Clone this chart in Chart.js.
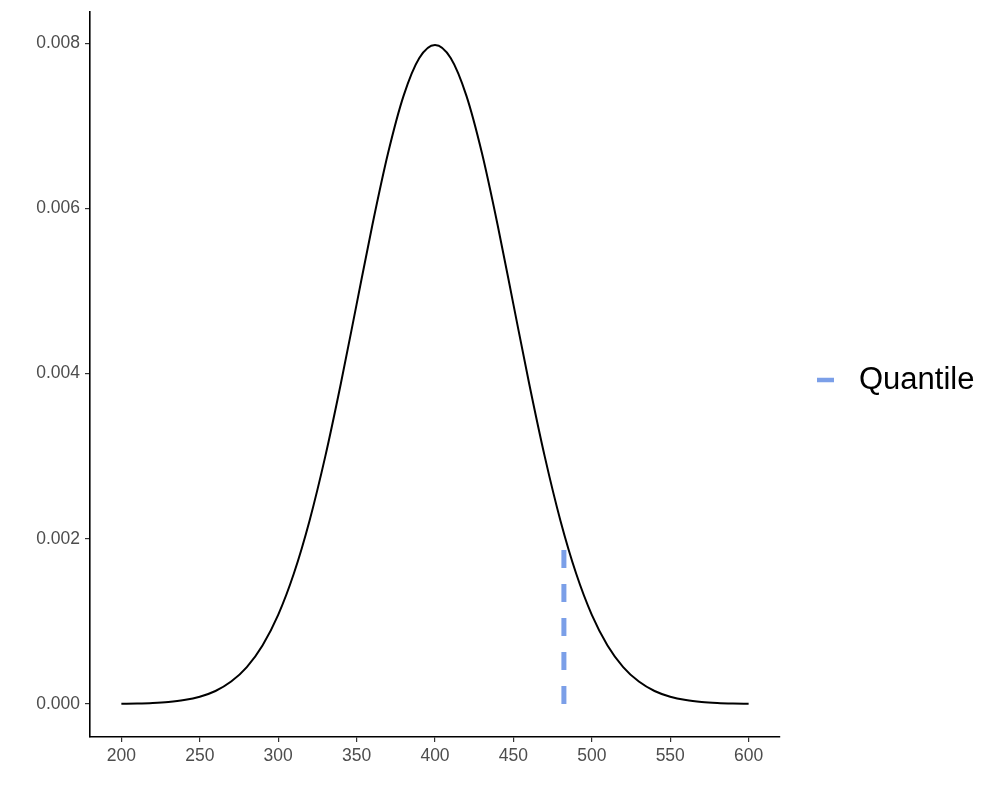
<!DOCTYPE html>
<html>
<head>
<meta charset="utf-8">
<script src="https://cdn.jsdelivr.net/npm/chart.js@4"></script>
<style>
  html, body { margin: 0; padding: 0; background: #fff; }
  #wrap { width: 1000px; height: 800px; }
</style>
</head>
<body>
<div id="wrap"><canvas id="densidad" width="1000" height="800"></canvas></div>
<script>
// valores (curva de densidad)
const xValores = [200, 210, 220, 230, 240, 250, 260, 270, 280, 290,
                  300, 310, 320, 330, 340, 350, 360, 370, 380, 390,
                  400, 410, 420, 430, 440, 450, 460, 470, 480, 490,
                  500, 510, 520, 530, 540, 550, 560, 570, 580, 590, 600];
const densidad = [0.0000027, 0.0000058, 0.0000122, 0.0000246, 0.0000477, 0.0000886, 0.000158, 0.000272, 0.000448, 0.00071,
                  0.00108, 0.00158, 0.00222, 0.002995, 0.003884, 0.004839, 0.005794, 0.006664, 0.007365, 0.007821,
                  0.007979, 0.007821, 0.007365, 0.006664, 0.005794, 0.004839, 0.003884, 0.002995, 0.00222, 0.00158,
                  0.00108, 0.00071, 0.000448, 0.000272, 0.000158, 0.0000886, 0.0000477, 0.0000246, 0.0000122, 0.0000058, 0.0000027];

// linea del cuantil
const cuantilX = [482.2, 482.2];
const cuantilY = [0, 0.00206];

const etiquetaLeyenda = 'Quantile';
const colorCuantil = '#7b9fe8';

const fuente = "'Liberation Sans', Arial, Helvetica, sans-serif";

// Leyenda dibujada a mano a la derecha
const leyendaManual = {
    id: 'leyendaManual',
    afterDraw(chart) {
        const ctx = chart.ctx;
        ctx.save();
        ctx.strokeStyle = colorCuantil;
        ctx.lineWidth = 4.5;
        ctx.beginPath();
        ctx.moveTo(817, 380);
        ctx.lineTo(834, 380);
        ctx.stroke();
        ctx.fillStyle = '#000';
        ctx.font = '31px ' + fuente;
        ctx.textBaseline = 'middle';
        ctx.fillText(etiquetaLeyenda, 859, 380);
        ctx.restore();
    }
};

const ctx = document.getElementById('densidad').getContext('2d');
new Chart(ctx, {
    type: 'line',
    data: {
        datasets: [
            {
                label: 'densidad',
                data: xValores.map((x, i) => ({ x: x, y: densidad[i] })),
                borderColor: '#000',
                borderWidth: 2,
                pointRadius: 0,
                cubicInterpolationMode: 'monotone',
                fill: false
            },
            {
                label: etiquetaLeyenda,
                data: cuantilX.map((x, i) => ({ x: x, y: cuantilY[i] })),
                borderColor: colorCuantil,
                borderWidth: 5,
                borderDash: [18, 16],
                pointRadius: 0,
                fill: false
            }
        ]
    },
    options: {
        responsive: false,
        animation: false,
        layout: { padding: { top: 12, right: 220, bottom: 0, left: 0 } },
        plugins: {
            legend: { display: false },
            tooltip: { enabled: false }
        },
        scales: {
            x: {
                type: 'linear',
                min: 180,
                max: 620,
                afterFit: s => { s.height = 63; s.paddingLeft = 0; s.paddingRight = 0; },
                border: { display: true, color: '#000', width: 1.6 },
                grid: { display: true, drawOnChartArea: false, drawTicks: true, tickLength: 5, color: '#333', lineWidth: 1.2 },
                ticks: {
                    stepSize: 50,
                    includeBounds: false,
                    color: '#4d4d4d',
                    padding: 4,
                    maxRotation: 0,
                    font: { family: fuente, size: 17.5 }
                }
            },
            y: {
                min: -0.000399,
                max: 0.008378,
                // sin relleno extra arriba/abajo por las etiquetas
                afterFit: s => { s.width = 90; s.paddingTop = 0; s.paddingBottom = 0; },
                border: { display: true, color: '#000', width: 1.6 },
                grid: { display: true, drawOnChartArea: false, drawTicks: true, tickLength: 5, color: '#333', lineWidth: 1.2 },
                ticks: {
                    stepSize: 0.002,
                    includeBounds: false,
                    color: '#4d4d4d',
                    padding: 5,
                    font: { family: fuente, size: 17.5 },
                    callback: v => v.toFixed(3)
                }
            }
        }
    },
    plugins: [leyendaManual]
});
</script>
</body>
</html>
